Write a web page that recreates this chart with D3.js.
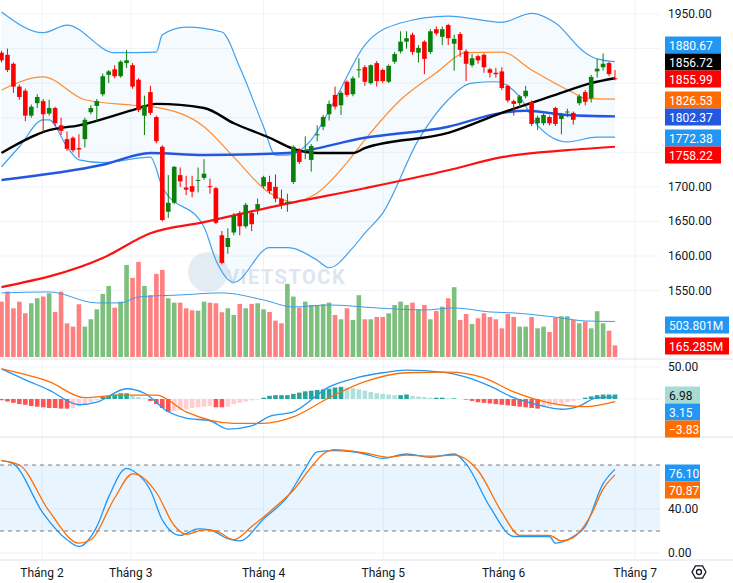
<!DOCTYPE html>
<html><head><meta charset="utf-8">
<script src="https://cdn.jsdelivr.net/npm/d3@7"></script>
<style>body{margin:0;background:#fff}svg{display:block;font-family:Roboto,"Noto Sans",sans-serif}</style>
</head><body><svg id="c" width="733" height="583"></svg>
<script>
// candles (one per trading day)
const opens  = [1894,1891,1878,1845,1839,1803,1821,1824,1806,1814,1789,1769,1771,1756,1769,1808,1817,1834,1862,1870,1860,1879,1876,1855,1803,1837,1801,1758,1664,1677,1717,1699,1701,1709,1713,1701,1698,1630,1613,1634,1662,1643,1662,1668,1701,1707,1700,1683,1677,1707,1753,1752,1739,1775,1787,1805,1833,1818,1852,1834,1869,1873,1850,1879,1869,1852,1881,1896,1910,1920,1894,1910,1895,1928,1917,1934,1907,1921,1896,1876,1889,1891,1870,1865,1867,1846,1824,1821,1831,1823,1792,1792,1801,1814,1798,1808,1807,1821,1837,1828,1867,1873,1879,1857];
const highs  = [1897,1900,1880,1848,1842,1819,1834,1827,1826,1816,1800,1780,1773,1776,1800,1818,1827,1864,1869,1876,1883,1898,1879,1857,1832,1846,1803,1760,1717,1730,1728,1716,1716,1728,1740,1712,1700,1636,1640,1662,1665,1677,1665,1683,1716,1716,1718,1696,1690,1760,1756,1773,1762,1789,1804,1825,1845,1839,1854,1860,1886,1876,1877,1882,1871,1877,1895,1925,1925,1923,1905,1912,1928,1932,1932,1936,1920,1924,1899,1892,1891,1893,1872,1872,1873,1848,1826,1833,1846,1825,1803,1806,1803,1816,1807,1813,1809,1834,1840,1862,1885,1893,1881,1869];
const lows   = [1880,1866,1836,1826,1795,1800,1814,1779,1803,1788,1775,1752,1750,1742,1757,1805,1795,1831,1850,1857,1858,1872,1842,1808,1775,1804,1763,1650,1655,1675,1700,1688,1685,1692,1710,1690,1646,1588,1603,1630,1630,1640,1636,1660,1698,1690,1678,1668,1664,1704,1733,1740,1722,1766,1782,1796,1812,1804,1830,1831,1858,1846,1848,1845,1850,1850,1878,1893,1900,1891,1880,1863,1892,1919,1905,1905,1868,1888,1853,1873,1878,1865,1858,1858,1840,1822,1803,1815,1828,1788,1782,1789,1789,1788,1776,1801,1790,1818,1818,1822,1858,1868,1860,1854];
const closes = [1883,1869,1845,1830,1803,1816,1830,1805,1814,1792,1781,1755,1753,1754,1797,1814,1824,1860,1867,1860,1881,1883,1845,1811,1818,1807,1766,1652,1677,1729,1708,1696,1693,1710,1719,1700,1648,1590,1626,1658,1643,1674,1646,1675,1714,1694,1683,1674,1678,1758,1736,1753,1759,1776,1801,1820,1816,1836,1833,1857,1870,1852,1876,1853,1853,1875,1892,1910,1915,1895,1901,1885,1925,1922,1928,1915,1914,1898,1878,1886,1883,1873,1865,1863,1843,1825,1820,1831,1839,1791,1800,1804,1792,1791,1804,1809,1797,1831,1823,1859,1871,1878,1863,1856];
const volumes = [785,927,691,785,620,762,833,857,904,639,927,478,431,748,431,535,677,895,1008,700,785,1306,1122,1349,1008,876,1179,1235,833,771,771,691,663,657,785,771,762,635,691,596,753,691,753,762,677,639,516,478,1037,857,700,785,738,738,748,771,596,535,691,525,876,535,535,568,568,620,738,785,738,771,677,738,535,653,714,833,990,525,611,469,549,620,568,535,407,611,568,431,431,568,407,431,355,558,578,578,525,478,501,407,649,478,373,165];

// moving averages / bands: [day index, value]
const ma50  = [[0,1749],[8,1782],[13,1789],[22,1811],[26,1820],[34,1814],[39,1792],[45,1771],[49,1755],[53,1749],[59,1749],[61,1756],[75,1778],[84,1807],[93,1833],[99,1850],[103,1857]];
const ma100 = [[0,1710],[17,1732],[25,1749],[34,1746],[48,1749],[61,1771],[75,1787],[84,1807],[88,1810],[95,1804],[103,1802]];
const ma200 = [[0,1555],[17,1597],[25,1633],[34,1649],[47,1674],[61,1698],[75,1724],[84,1743],[95,1753],[103,1758]];
const bbMid = [[0,1840],[7,1859],[14,1826],[22,1818],[26,1815],[34,1787],[39,1743],[45,1691],[49,1678],[53,1691],[58,1735],[61,1768],[67,1826],[73,1865],[78,1894],[84,1895],[89,1869],[96,1836],[98,1828],[103,1827]];
const bbUp  = [[0,1953],[7,1923],[11,1934],[19,1894],[26,1895],[27,1920],[31,1931],[37,1924],[40,1873],[44,1787],[46,1746],[48,1746],[52,1768],[56,1826],[61,1905],[67,1937],[75,1947],[84,1938],[89,1951],[93,1937],[98,1894],[100,1885],[103,1881]];
const bbLow = [[0,1729],[3,1758],[7,1797],[8,1797],[11,1758],[13,1739],[17,1735],[25,1743],[27,1700],[34,1642],[36,1594],[39,1562],[45,1612],[48,1612],[53,1594],[55,1583],[59,1612],[61,1633],[64,1662],[70,1768],[75,1826],[79,1850],[83,1852],[87,1830],[90,1789],[95,1765],[100,1772],[103,1772]];
const volMa = [[0,909],[8,923],[16,767],[20,767],[23,852],[30,880],[37,909],[44,809],[49,710],[55,738],[63,696],[71,667],[76,696],[82,639],[86,625],[94,554],[98,511],[103,504]];

// MACD
const macdLine = [[0,47],[4,30],[8,14],[13,-9],[16,-5],[21,16],[24,9],[28,-20],[31,-30],[35,-34],[38,-47],[42,-42],[45,-27],[49,-20],[55,19],[60,34],[64,41],[68,45],[74,42],[78,34],[82,20],[86,2],[90,-9],[94,-16],[97,-11],[100,2],[103,3]];
const macdSignal = [[0,47],[8,27],[14,2],[20,6],[26,6],[31,-20],[39,-38],[44,-38],[49,-28],[55,2],[61,27],[68,41],[75,42],[81,33],[86,11],[92,-6],[98,-12],[103,-4]];
const macdHist = [-2,-4,-6,-8,-9,-11,-12,-13,-14,-14,-15,-15,-14,-11, -8,-5,-2, 3,5,7,9,9,5,3,1,
  -3,-8,-14,-20,-19,-17,-16,-14,-13,-12,-11,-13,-13,-12,-8,-6,-4,-2,-1,
  2,5,6,6,6,8,10,12,13,14,15,16,18,19,18,17,15,
  13,11,9,8,7,6,6,7,5,4,3,2,2,2,1,1,0,
  -1,-3,-5,-6,-7,-8,-9,-10,-11,-12,-13,-14,-15,-13,-11,-9,-7,-5,-3,-1,
  2,4,6,7,7,7];

// Stochastic
const stochK = [[0,84],[2,81],[7,36],[11,12],[13,6],[16,24],[18,51],[21,77],[22,75],[25,57],[27,30],[30,16],[33,22],[35,21],[38,13],[40,11],[44,31],[48,51],[51,77],[53,92],[56,93],[61,90],[64,86],[68,90],[72,87],[76,90],[78,81],[82,42],[86,15],[90,15],[92,15],[93,9],[96,15],[98,24],[101,63],[103,76]];
const stochD = [[0,84],[3,80],[8,38],[13,9],[15,12],[19,50],[22,72],[23,71],[26,55],[29,25],[31,17],[34,21],[36,20],[39,12],[42,24],[46,42],[49,57],[52,78],[54,90],[56,94],[61,91],[65,87],[68,89],[72,88],[76,89],[80,75],[84,37],[87,16],[92,16],[94,11],[96,14],[99,35],[101,58],[103,71]];

const months = [["Tháng 2",6.8],["Tháng 3",21.7],["Tháng 4",44],["Tháng 5",64.1],["Tháng 6",84.3],["Tháng 7",106.4]];
const priceTicks = [1550,1600,1650,1700,1750,1800,1850,1900,1950];
const shownPriceTicks = [1550,1600,1650,1700,1950]; // others sit under value labels
const stochTicks = [0,40,80];

const svg = d3.select("#c");
const W = 660;
const x = d3.scaleLinear().domain([0, 103]).range([1.5, 615]);
const y = d3.scaleLinear().domain([1600, 1950]).range([256, 14]);
const yv = d3.scaleLinear().domain([0, 1000]).range([357, 286.5]);
const ym = d3.scaleLinear().domain([0, 50]).range([399, 367]);
const ys = d3.scaleLinear().domain([0, 40]).range([553, 509]);
const grid = "#f0f3fa";

// grids
const g0 = svg.append("g");
months.forEach(m => g0.append("line").attr("x1", x(m[1])).attr("x2", x(m[1])).attr("y1", 0).attr("y2", 560).attr("stroke", grid));
priceTicks.forEach(t => g0.append("line").attr("x1", 0).attr("x2", W).attr("y1", y(t)).attr("y2", y(t)).attr("stroke", grid));
[0, 50].forEach(t => g0.append("line").attr("x1", 0).attr("x2", W).attr("y1", ym(t)).attr("y2", ym(t)).attr("stroke", grid));
[0, 40].forEach(t => g0.append("line").attr("x1", 0).attr("x2", W).attr("y1", ys(t)).attr("y2", ys(t)).attr("stroke", grid));
[359, 437].forEach(v => svg.append("line").attr("x1", 0).attr("x2", 733).attr("y1", v).attr("y2", v).attr("stroke", "#e0e3eb"));

// watermark
svg.append("circle").attr("cx", 208).attr("cy", 272).attr("r", 20).attr("fill", "#c9d9ea").attr("opacity", 0.5);
svg.append("text").attr("x", 226).attr("y", 284).attr("font-size", 20).attr("font-weight", 700).attr("fill", "#dde6f0").attr("letter-spacing", 1.5).text("VIETSTOCK");

const curve = d3.curveMonotoneX;
const px = d3.line().x(d => x(d[0])).y(d => y(d[1])).curve(curve);

// bollinger fill
const up = d3.scaleLinear().domain(bbUp.map(d => d[0])).range(bbUp.map(d => d[1]));
svg.append("path").attr("d", d3.area().x(d => x(d[0])).y0(d => y(d[1])).y1(d => y(d[2])).curve(curve)(
  bbLow.map(d => [d[0], d[1], up(d[0])])
)).attr("fill", "#2196f3").attr("opacity", 0.05);

// volume
svg.append("g").selectAll("rect").data(volumes).join("rect")
  .attr("x", (d, i) => x(i) - 2.3).attr("width", 4.6)
  .attr("y", d => yv(d)).attr("height", d => 357 - yv(d))
  .attr("fill", (d, i) => closes[i] >= opens[i] ? "#7dbf7d" : "#ff8080");
svg.append("path").attr("d", d3.line().x(d => x(d[0])).y(d => yv(d[1])).curve(curve)(volMa)).attr("fill", "none").attr("stroke", "#3d9be9").attr("stroke-width", 1);

[[bbUp, "#42a1ee", 1.2], [bbLow, "#42a1ee", 1.2], [bbMid, "#ff8c2e", 1.2], [ma200, "#ff1010", 2.2], [ma100, "#2457e0", 2.4], [ma50, "#000", 2.4]]
  .forEach(s => svg.append("path").attr("d", px(s[0])).attr("fill", "none").attr("stroke", s[1]).attr("stroke-width", s[2]));

// candles
const cg = svg.append("g");
closes.forEach((c, i) => {
  const o = opens[i], col = c >= o ? "#0a800a" : "#ff0000";
  cg.append("line").attr("x1", x(i)).attr("x2", x(i)).attr("y1", y(highs[i])).attr("y2", y(lows[i])).attr("stroke", col).attr("stroke-width", 1);
  cg.append("rect").attr("x", x(i) - 2.3).attr("width", 4.6).attr("y", y(Math.max(o, c)))
    .attr("height", Math.max(1, Math.abs(y(o) - y(c)))).attr("fill", col);
});

// MACD
svg.append("g").selectAll("rect").data(macdHist).join("rect")
  .attr("x", (d, i) => x(i) - 2.3).attr("width", 4.6)
  .attr("y", d => Math.min(ym(d), ym(0))).attr("height", d => Math.abs(ym(d) - ym(0)))
  .attr("fill", (d, i) => {
    const p = i ? macdHist[i - 1] : d;
    if (d >= 0) return d >= p ? "#26a69a" : "#b2dfdb";
    return d <= p ? "#ff5252" : "#ffcdd2";
  });
svg.append("path").attr("d", d3.line().x(d => x(d[0])).y(d => ym(d[1])).curve(curve)(macdLine)).attr("fill", "none").attr("stroke", "#2196f3").attr("stroke-width", 1.3);
svg.append("path").attr("d", d3.line().x(d => x(d[0])).y(d => ym(d[1])).curve(curve)(macdSignal)).attr("fill", "none").attr("stroke", "#ff6d00").attr("stroke-width", 1.3);

// Stochastic
svg.append("rect").attr("x", 0).attr("width", W).attr("y", ys(80)).attr("height", ys(20) - ys(80)).attr("fill", "#2196f3").attr("opacity", 0.1);
[20, 80].forEach(t => svg.append("line").attr("x1", 0).attr("x2", W).attr("y1", ys(t)).attr("y2", ys(t)).attr("stroke", "#787b86").attr("stroke-dasharray", "4,4"));
svg.append("path").attr("d", d3.line().x(d => x(d[0])).y(d => ys(d[1])).curve(curve)(stochK)).attr("fill", "none").attr("stroke", "#2196f3").attr("stroke-width", 1.3);
svg.append("path").attr("d", d3.line().x(d => x(d[0])).y(d => ys(d[1])).curve(curve)(stochD)).attr("fill", "none").attr("stroke", "#ff6d00").attr("stroke-width", 1.3);

// right axis
const ax = svg.append("g").attr("font-size", 12).attr("fill", "#131722");
svg.append("rect").attr("x", W).attr("y", 0).attr("width", 73).attr("height", 583).attr("fill", "#fff").lower();
shownPriceTicks.forEach(t => ax.append("text").attr("x", 668).attr("y", y(t) + 4).text(t.toFixed(2)));
ax.append("text").attr("x", 668).attr("y", ym(50) + 4).text("50.00");
stochTicks.filter(t => t < 80).forEach(t => ax.append("text").attr("x", 668).attr("y", ys(t) + 4).text(t.toFixed(2)));

const labels = [
  ["1880.67", 45, "#2196f3", "#fff", 56], ["1856.72", 62, "#000", "#fff", 56], ["1855.99", 79, "#ff0000", "#fff", 56],
  ["1826.53", 100, "#ff6d00", "#fff", 56], ["1802.37", 117, "#2457e0", "#fff", 56], ["1772.38", 138, "#2196f3", "#fff", 56],
  ["1758.22", 155, "#ff0000", "#fff", 56], ["503.801M", 325, "#2196f3", "#fff", 64], ["165.285M", 346, "#ff0000", "#fff", 64],
  ["6.98", 395, "#a7dcd5", "#131722", 35], ["3.15", 412, "#2196f3", "#fff", 35], ["\u22123.83", 429, "#ff6d00", "#fff", 35],
  ["76.10", 473, "#2196f3", "#fff", 35], ["70.87", 490, "#ff6d00", "#fff", 35]
];
labels.forEach(l => {
  ax.append("rect").attr("x", 665).attr("y", l[1] - 8.5).attr("width", l[4]).attr("height", 17).attr("fill", l[2]);
  ax.append("text").attr("x", 669).attr("y", l[1] + 4.5).attr("fill", l[3]).text(l[0]);
});

// bottom axis
svg.append("line").attr("x1", 0).attr("x2", 733).attr("y1", 560).attr("y2", 560).attr("stroke", "#e0e3eb");
months.forEach(m => svg.append("text").attr("x", x(m[1])).attr("y", 577).attr("text-anchor", "middle").attr("font-size", 12).attr("fill", "#131722").text(m[0]));
const gear = svg.append("g").attr("transform", "translate(699,572)");
gear.append("path").attr("d", d3.range(7).map(i => (i ? "L" : "M") + (7 * Math.cos(i * Math.PI / 3)).toFixed(2) + "," + (7 * Math.sin(i * Math.PI / 3)).toFixed(2)).join("")).attr("fill", "none").attr("stroke", "#131722").attr("stroke-width", 1.3);
gear.append("circle").attr("r", 2.5).attr("fill", "none").attr("stroke", "#131722").attr("stroke-width", 1.3);
</script></body></html>
